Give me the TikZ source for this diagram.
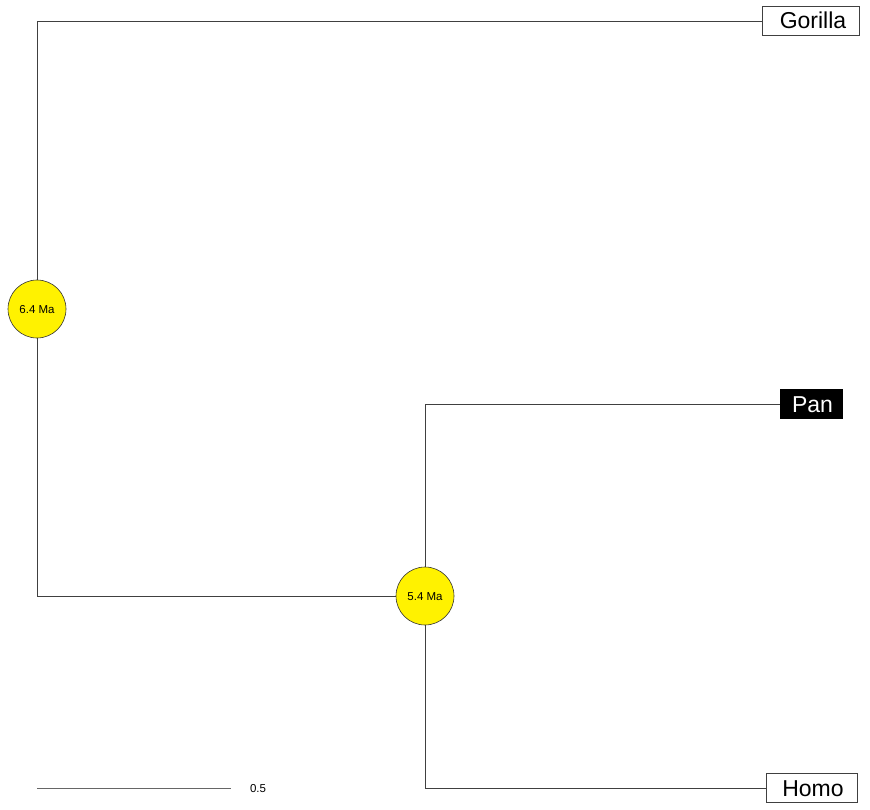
\documentclass[tikz,border=0pt]{standalone}
\usepackage{fontspec}
\setmainfont{Liberation Sans}
\usetikzlibrary{backgrounds}
\begin{document}
\begin{tikzpicture}[x=1pt,y=-1pt,
  branch/.style={draw=black!75, line width=0.8pt},
  leaf/.style={draw=black!75, line width=0.8pt, fill=white, inner sep=0pt, font=\fontsize{23}{26}\selectfont, text height=16pt, text depth=0pt},
  leafhl/.style={leaf, draw=black, fill=black, text=white},
  age/.style={circle, draw=black!80, line width=0.6pt, fill=yellow, minimum size=58pt, inner sep=0pt, font=\fontsize{11.5}{13}\selectfont, text height=8.3pt, text depth=0pt},
  scalelbl/.style={font=\fontsize{11.5}{13}\selectfont, inner sep=0pt, text height=8.3pt, text depth=0pt}]
\useasboundingbox (0,0) rectangle (870,810);
\node[leaf, minimum width=97pt, minimum height=29pt] (gorilla) at (810.5,21) {\hspace{5pt}Gorilla};
\node[leafhl, minimum width=62pt, minimum height=29pt] (pan) at (811,404) {\hspace{3pt}Pan};
\node[leaf, minimum width=91pt, minimum height=29pt] (homo) at (811.5,788) {\hspace{3pt}Homo};
\node[age] (root) at (37,309) {6.4 Ma};
\node[age] (n1) at (425,596) {5.4 Ma};
\coordinate (c1) at (37,21);
\coordinate (c2) at (37,596);
\coordinate (c3) at (425,404);
\coordinate (c4) at (425,788);
\coordinate (sb1) at (37,788);
\coordinate (sb2) at (231,788);
\node[scalelbl] (sbl) at (258,788) {0.5};
\begin{scope}[on background layer]
\draw[branch] (root) -- (c1) -- (gorilla.west);
\draw[branch] (root) -- (c2) -- (n1);
\draw[branch] (n1) -- (c3) -- (pan.west);
\draw[branch] (n1) -- (c4) -- (homo.west);
\draw[branch, draw=black!60] (sb1) -- (sb2);
\end{scope}
\end{tikzpicture}
\end{document}
